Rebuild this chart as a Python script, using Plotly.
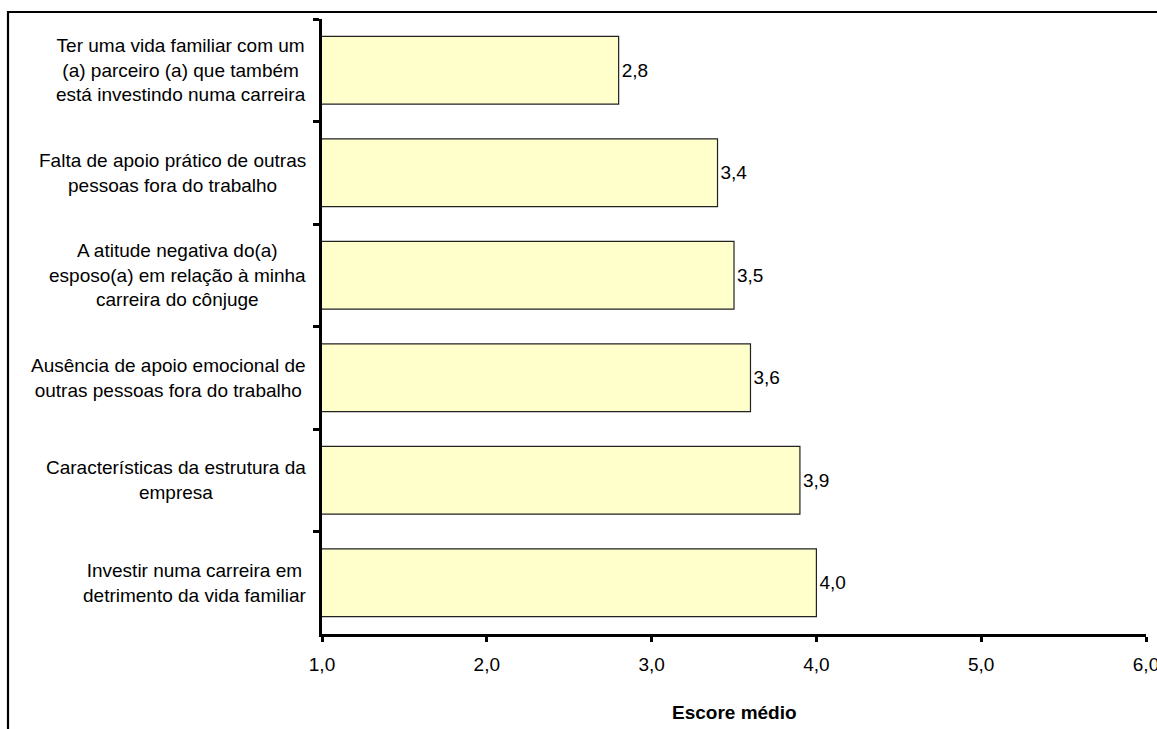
import plotly.graph_objects as go

categories = [
    "Ter uma vida familiar com um<br>(a) parceiro (a) que também<br>está investindo numa carreira",
    "Falta de apoio prático de outras<br>pessoas fora do trabalho",
    "A atitude negativa do(a)<br>esposo(a) em relação à minha<br>carreira do cônjuge",
    "Ausência de apoio emocional de<br>outras pessoas fora do trabalho",
    "Características da estrutura da<br>empresa",
    "Investir numa carreira em<br>detrimento da vida familiar",
]
values = [2.8, 3.4, 3.5, 3.6, 3.9, 4.0]
x_ticks = [1, 2, 3, 4, 5, 6]
x_title = "Escore médio"

W, H = 1157, 729
L, R, T, B = 322, 11, 19, 95
pw, ph = W - L - R, H - T - B

FONT = "Liberation Sans, Arial, sans-serif"
fs = 19

fig = go.Figure()
fig.add_trace(go.Bar(
    y=categories, x=values, orientation="h",
    marker=dict(color="#FFFFCC", line=dict(color="#222222", width=1.2)),
    width=0.66,
    text=values, texttemplate="%{x:.1f}", textposition="outside",
    textfont=dict(family=FONT, size=fs, color="black"),
    cliponaxis=False, showlegend=False,
))

annotations = []
for c in categories:
    annotations.append(dict(
        x=0, xref="paper", y=c, yref="y", xanchor="right", yanchor="middle",
        xshift=-14, align="center", showarrow=False, text=c,
        font=dict(family=FONT, size=fs, color="black"),
    ))
annotations.append(dict(
    x=0.5, xref="paper", y=(634 - 712) / ph, yref="paper",
    xanchor="center", yanchor="middle", showarrow=False,
    text="<b>" + x_title + "</b>",
    font=dict(family=FONT, size=fs, color="black"),
))

shapes = [dict(
    type="rect", xref="paper", yref="paper",
    x0=(8 - L) / pw, x1=(1165 - L) / pw,
    y0=(H - T - B - (740 - T)) / ph, y1=(ph + (T - 12)) / ph,
    line=dict(color="black", width=2.2), fillcolor="rgba(0,0,0,0)", layer="below",
)]

fig.update_layout(
    width=W, height=H,
    margin=dict(l=L, r=R, t=T, b=B, pad=0, autoexpand=False),
    paper_bgcolor="white", plot_bgcolor="white",
    separators=",.",
    bargap=0.34,
    font=dict(family=FONT, size=fs, color="black"),
    annotations=annotations, shapes=shapes,
    xaxis=dict(
        range=[1, 6], tickvals=x_ticks, tickformat=".1f",
        showgrid=False, zeroline=False, automargin=False,
        showline=True, linecolor="black", linewidth=2.5,
        ticks="outside", ticklen=5, tickwidth=2.5, tickcolor="black",
        tickfont=dict(family=FONT, size=fs, color="black"),
        ticklabelstandoff=6, ticklabeloverflow="allow",
    ),
    yaxis=dict(
        categoryorder="array", categoryarray=categories, autorange="reversed",
        showgrid=False, zeroline=False, automargin=False,
        showline=True, linecolor="black", linewidth=2.5,
        ticks="outside", ticklen=6, tickwidth=2.5, tickcolor="black",
        tickson="boundaries", showticklabels=False,
    ),
)

fig.write_html("out.html")
